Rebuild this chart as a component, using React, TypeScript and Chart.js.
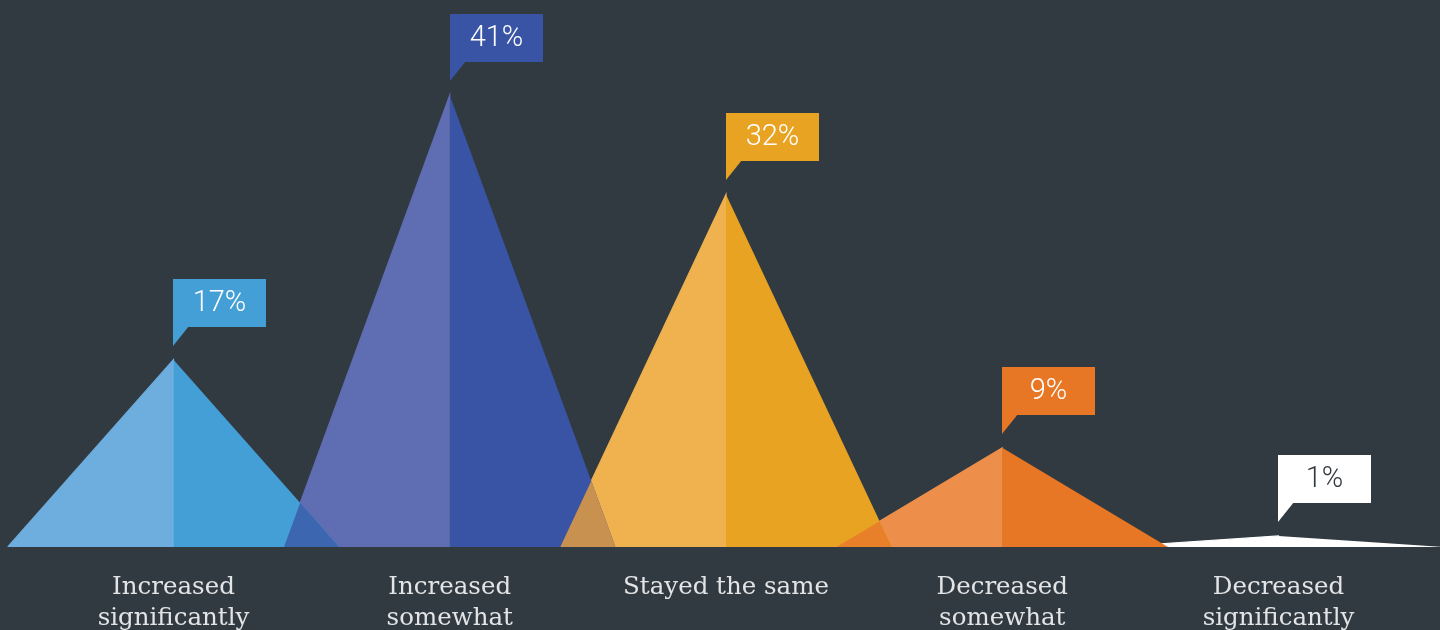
import React, { useEffect, useRef } from "react";
import { Chart, registerables } from "chart.js";

Chart.register(...registerables);

const categories: string[][] = [
  ["Increased", "significantly"],
  ["Increased", "somewhat"],
  ["Stayed the same"],
  ["Decreased", "somewhat"],
  ["Decreased", "significantly"],
];
const values: number[] = [17, 41, 32, 9, 1];
const valueLabels: string[] = ["17%", "41%", "32%", "9%", "1%"];

const leftColors = ["#6daede", "#5f6db3", "#efb24f", "#ed8f4a", "#ffffff"];
const rightColors = ["#459fd7", "#3a54a5", "#e8a323", "#e77625", "#ffffff"];
const overlapColors = ["#3d66b0", "#c89150", "#e8802a", "#e77625"];
const boxColors = ["#459fd7", "#3a54a5", "#e8a323", "#e77625", "#ffffff"];
const boxTextColors = ["#ffffff", "#ffffff", "#ffffff", "#ffffff", "#313a41"];
const BG = "#313a41";
const HALF = 0.6; // half width of each peak, in category units

function buildDatasets() {
  const ds: any[] = [];
  const n = values.length;
  for (let i = 0; i < n - 2; i++) {
    const a = values[i];
    const b = values[i + 1];
    const xi = (a * (i + HALF) + b * (i + 1 - HALF)) / (a + b);
    const yi = (a * (i + HALF - xi)) / HALF;
    ds.push({
      data: [
        { x: i + 1 - HALF, y: 0 },
        { x: xi, y: yi },
        { x: i + HALF, y: 0 },
      ],
      backgroundColor: overlapColors[i],
      borderColor: overlapColors[i],
      borderWidth: 0,
      order: 0,
    });
  }
  for (let i = 0; i < n; i++) {
    const v = values[i];
    ds.push({
      data: [
        { x: i, y: 0 },
        { x: i, y: v },
        { x: i + HALF, y: 0 },
      ],
      backgroundColor: rightColors[i],
      borderColor: "rgba(0,0,0,0)",
      borderWidth: 0,
      order: i === n - 1 ? 10 : 1,
    });
    ds.push({
      data: [
        { x: i - HALF, y: 0 },
        { x: i, y: v },
        { x: i, y: 0 },
      ],
      backgroundColor: leftColors[i],
      borderColor: leftColors[i],
      borderWidth: 1.2,
      order: i === n - 1 ? 10 : 2,
    });
  }
  return ds.map((d) => ({
    ...d,
    fill: "origin",
    pointRadius: 0,
    tension: 0,
  }));
}

const annotationsPlugin = {
  id: "peakLabels",
  afterDatasetsDraw(chart: any) {
    const { ctx, scales, chartArea } = chart;
    const xs = scales.x;
    const ys = scales.y;
    ctx.save();
    for (let i = 0; i < values.length; i++) {
      const px = Math.round(xs.getPixelForValue(i));
      const py = ys.getPixelForValue(values[i]);
      const boxW = 93;
      const boxH = 48;
      const boxBottom = Math.round(py - 33);
      const boxTop = boxBottom - boxH;
      ctx.fillStyle = boxColors[i];
      ctx.fillRect(px, boxTop, boxW, boxH);
      ctx.beginPath();
      ctx.moveTo(px, boxBottom - 1);
      ctx.lineTo(px + 16, boxBottom - 1);
      ctx.lineTo(px, boxBottom + 19);
      ctx.closePath();
      ctx.fill();
      ctx.fillStyle = boxTextColors[i];
      ctx.font = "300 29px Roboto";
      ctx.textAlign = "center";
      ctx.textBaseline = "middle";
      ctx.fillText(valueLabels[i], px + boxW / 2, boxTop + boxH / 2 + 1);
    }
    ctx.fillStyle = "#e2e4e6";
    ctx.font = "300 24.5px 'DejaVu Serif'";
    ctx.textAlign = "center";
    ctx.textBaseline = "alphabetic";
    for (let i = 0; i < categories.length; i++) {
      const px = xs.getPixelForValue(i);
      categories[i].forEach((line, j) => {
        ctx.fillText(line, px, chartArea.bottom + 47 + j * 31);
      });
    }
    ctx.restore();
  },
};

export default function App() {
  const ref = useRef<HTMLCanvasElement | null>(null);
  useEffect(() => {
    if (!ref.current) return;
    const chart = new Chart(ref.current, {
      type: "line",
      data: { datasets: buildDatasets() },
      options: {
        animation: false,
        responsive: true,
        maintainAspectRatio: false,
        devicePixelRatio: 1,
        layout: { padding: { left: 0, right: 0, top: 0, bottom: 83 } },
        scales: {
          x: { type: "linear", min: -0.62805, max: 4.58462, display: false },
          y: { type: "linear", min: 0, max: 49.64, display: false },
        },
        plugins: {
          legend: { display: false },
          tooltip: { enabled: false },
        },
      },
      plugins: [annotationsPlugin],
    });
    return () => chart.destroy();
  }, []);
  return (
    <div
      style={{
        position: "fixed",
        left: 0,
        top: 0,
        width: 1440,
        height: 630,
        background: BG,
      }}
    >
      <canvas ref={ref} />
    </div>
  );
}
